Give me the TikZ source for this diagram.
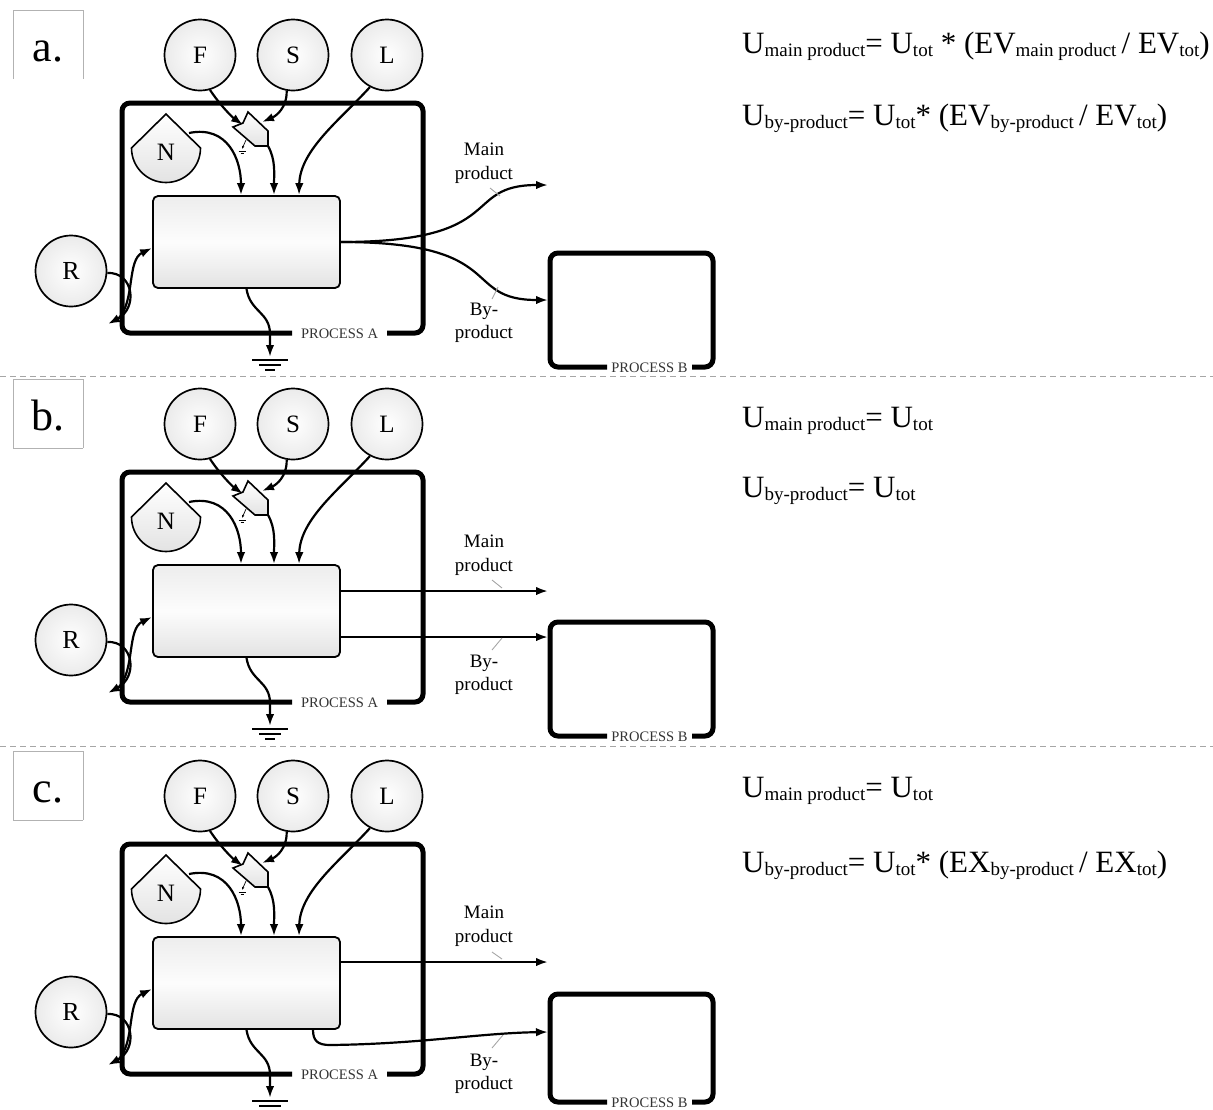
\documentclass[tikz,border=0pt]{standalone}
\usepackage{fontspec}
\setmainfont{Liberation Serif}
\usetikzlibrary{arrows.meta,calc}
\newcommand\sbs[1]{\raisebox{-3pt}{\fontsize{19}{19}\selectfont #1}}
\tikzset{
 con/.style={line width=2.2pt,-{Latex[length=12pt,width=8.5pt]}},
 frame/.style={line width=5pt,rounded corners=8pt},
 proc/.style={font=\fontsize{14.5}{14.5}\selectfont,text=black!80,inner sep=0pt},
 src/.style={circle,draw,line width=1.7pt,minimum size=71pt,inner sep=0pt,inner color=white,outer color=gray!16,font=\fontsize{25}{25}\selectfont},
 srctxt/.style={font=\fontsize{25}{25}\selectfont,inner sep=0pt},
 shp/.style={draw,line width=1.6pt,top color=white,bottom color=gray!22},
 pbox/.style={draw,line width=1.8pt,rounded corners=5pt,minimum width=187pt,minimum height=92pt,top color=gray!14,bottom color=gray!22,middle color=gray!2},
 lblbox/.style={draw=gray!60,line width=1pt},
 lbltxt/.style={font=\fontsize{44}{44}\selectfont,inner sep=0pt},
 plab/.style={font=\fontsize{19}{23.5}\selectfont,align=center,inner sep=0pt},
 tick/.style={draw=gray!70,line width=0.9pt},
 gline/.style={line width=2pt},
 sep/.style={draw=gray!70,line width=1pt,dash pattern=on 6pt off 4pt},
 eq/.style={anchor=base west,inner sep=0pt,font=\fontsize{31}{31}\selectfont}
}
\newcommand\panel[4]{%
\begin{scope}[shift={(0,#2)}]
 \draw[lblbox] (13,79) -- (13,10) -- (83,10) -- (83,79);
 \node[lbltxt,anchor=base] (#1lab) at (48,61) {#3.};
 \draw[frame] (292,333) -| (122,103) -| (423,333) -- (387,333);
 \node[proc] (#1pa) at (339.5,334) {PROCESS A};
 \draw[frame] (607,#4) -| (550,253) -| (713,#4) -- (692,#4);
 \node[proc] (#1pb) at (649.5,#4+1) {PROCESS B};
 \node[src] (#1F) at (200,55) {F};
 \node[src] (#1S) at (293,55) {S};
 \node[src] (#1L) at (387,55) {L};
 \node[src,font=\fontsize{26}{26}\selectfont] (#1R) at (71,271) {R};
 \shade[shp] (166,114) -- (131.5,148) arc[start angle=180,end angle=360,radius=34.5pt] -- cycle;
 \node[srctxt] (#1N) at (166,152) {N};
 \coordinate (#1Ne) at (189,133);
 \shade[shp] (233,127) -- (243,123) -- (248,112) -- (268,131) -- (268,146) -- (255,146) -- cycle;
 \coordinate (#1Ia) at (243,125);
 \coordinate (#1Ib) at (262,122);
 \coordinate (#1Io) at (268,146);
 \draw[line width=0.7pt,-{Latex[length=3pt,width=2.5pt]}] (246,140) -- (242,149);
 \draw[line width=0.7pt] (238.5,151) -- (245.5,151);
 \draw[line width=0.7pt] (240.5,153.5) -- (243.5,153.5);
 \node[pbox] (#1box) at (246.5,242) {};
 \draw[con] (#1F.-74) .. controls (220,105) and (232,117) .. (#1Ia);
 \draw[con] (#1S.-100) .. controls (287,108) and (276,116) .. (#1Ib);
 \draw[con] (#1Io) .. controls (276,160) and (274,175) .. ([xshift=27.5pt]#1box.north);
 \draw[con] (#1Ne) .. controls (228,125) and (241,160) .. ([xshift=-5.5pt]#1box.north);
 \draw[con] (#1L.-118) .. controls (340,120) and (300,150) .. ([xshift=52.5pt]#1box.north);
 \coordinate (#1Ro) at (108,324);
 \coordinate (#1Ri) at (119,318);
 \draw[con] (#1R.-3) .. controls (134,272) and (138,308) .. (#1Ro);
 \draw[con] (#1Ri) .. controls (135,300) and (127,260) .. ([yshift=-6pt]#1box.west);
 \coordinate (#1gnd) at (270,357);
 \draw[con] (#1box.south) .. controls (250,312) and (270,312) .. (270,334) -- (#1gnd);
 \draw[gline] (252,360) -- (288,360);
 \draw[gline] (259,365) -- (281,365);
 \draw[gline] (265,370) -- (275,370);
\end{scope}}

\begin{document}
\begin{tikzpicture}[x=1pt,y=-1pt]
\useasboundingbox (0,0) rectangle (1213,1109);
\draw[sep] (0,376) -- (1213,376);
\draw[sep] (0,746) -- (1213,746);

% ---------- panel a
\panel{a}{0}{a}{367}
\coordinate (aMo) at (548,185);
\coordinate (aBi) at (548,300);
\draw[con] (abox.east) .. controls (510,242) and (460,185) .. (aMo);
\draw[con] (abox.east) .. controls (510,242) and (460,300) .. (aBi);
\node[plab] (aml) at (484,163) {Main\\product};
\node[plab] (abl) at (484,323) {By-\\product};
\draw[tick] (490,188) -- (500,196);
\draw[tick] (498,287) -- (492,299);
\node[eq] (aeq1) at (742,53) {U\sbs{main product}= U\sbs{tot} * (EV\sbs{main product}\,/ EV\sbs{tot})};
\node[eq] (aeq2) at (742,125) {U\sbs{by-product}= U\sbs{tot}* (EV\sbs{by-product}\,/ EV\sbs{tot})};

% ---------- panel b
\panel{b}{369}{b}{367}
\draw[lblbox] (13,448) -- (83,448);
\begin{scope}[shift={(0,369)}]
\coordinate (bMo) at (548,222);
\coordinate (bBi) at (548,268);
\draw[con] ([yshift=20pt]bbox.east) -- (bMo);
\draw[con] ([yshift=-26pt]bbox.east) -- (bBi);
\node[plab] (bml) at (484,186) {Main\\product};
\node[plab] (bbl) at (484,306) {By-\\product};
\draw[tick] (492,211) -- (502,219);
\draw[tick] (502,269) -- (492,281);
\end{scope}
\node[eq] (beq1) at (742,427) {U\sbs{main product}= U\sbs{tot}};
\node[eq] (beq2) at (742,497) {U\sbs{by-product}= U\sbs{tot}};

% ---------- panel c
\panel{c}{741}{c}{361}
\draw[lblbox] (13,820) -- (83,820);
\begin{scope}[shift={(0,741)}]
\coordinate (cMo) at (548,221);
\coordinate (cBi) at (548,291);
\draw[con] ([yshift=21pt]cbox.east) -- (cMo);
\draw[con] ([xshift=66.5pt]cbox.south) .. controls (313,300) and (318,304) .. (330,304) .. controls (420,303) and (480,292) .. (cBi);
\node[plab] (cml) at (484,185) {Main\\product};
\node[plab] (cbl) at (484,333) {By-\\product};
\draw[tick] (492,211) -- (502,218);
\draw[tick] (503,294) -- (492,307);
\end{scope}
\node[eq] (ceq1) at (742,797) {U\sbs{main product}= U\sbs{tot}};
\node[eq] (ceq2) at (742,872) {U\sbs{by-product}= U\sbs{tot}* (EX\sbs{by-product}\,/ EX\sbs{tot})};
\end{tikzpicture}
\end{document}
